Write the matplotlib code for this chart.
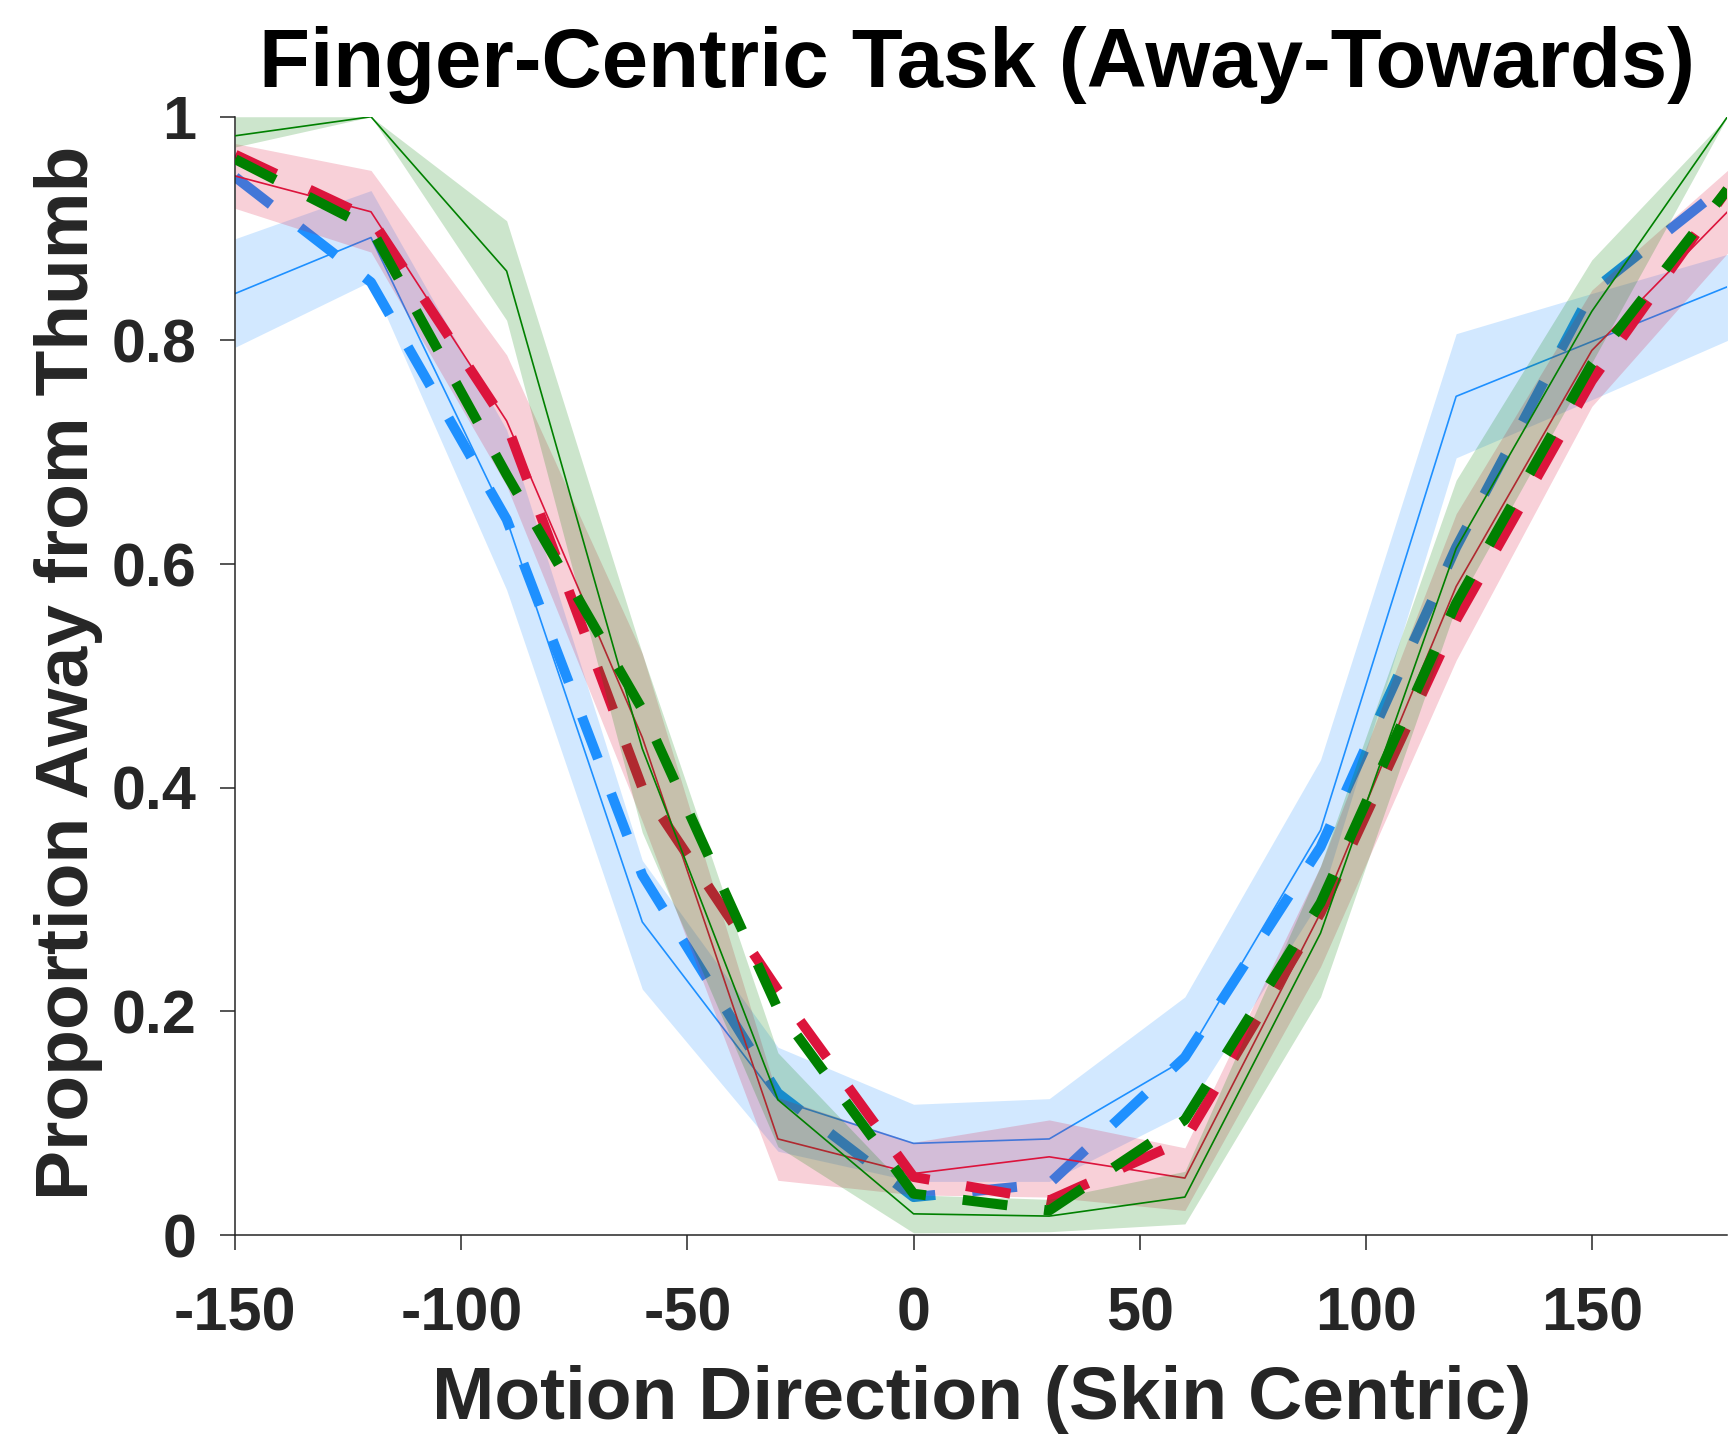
import matplotlib
matplotlib.use("Agg")
import matplotlib.pyplot as plt
import numpy as np

# ---- data ----
directions = [-150, -120, -90, -60, -30, 0, 30, 60, 90, 120, 150, 180]

blue_data  = [0.842, 0.892, 0.640, 0.280, 0.121, 0.082, 0.086, 0.157, 0.362, 0.750, 0.799, 0.848]
blue_upper = [0.891, 0.934, 0.720, 0.335, 0.168, 0.117, 0.122, 0.213, 0.425, 0.806, 0.842, 0.877]
blue_lower = [0.794, 0.853, 0.577, 0.220, 0.075, 0.048, 0.048, 0.109, 0.300, 0.695, 0.747, 0.800]
blue_fit   = [0.946, 0.852, 0.640, 0.322, 0.127, 0.034, 0.046, 0.159, 0.347, 0.615, 0.844, 0.940]

red_data  = [0.947, 0.915, 0.728, 0.445, 0.086, 0.055, 0.070, 0.051, 0.288, 0.580, 0.791, 0.915]
red_upper = [0.976, 0.952, 0.787, 0.520, 0.123, 0.083, 0.103, 0.078, 0.330, 0.645, 0.845, 0.952]
red_lower = [0.918, 0.879, 0.670, 0.370, 0.049, 0.036, 0.034, 0.022, 0.240, 0.514, 0.741, 0.878]
red_fit   = [0.966, 0.909, 0.725, 0.400, 0.219, 0.052, 0.031, 0.085, 0.288, 0.550, 0.764, 0.935]

green_data  = [0.983, 1.000, 0.862, 0.435, 0.121, 0.019, 0.017, 0.034, 0.270, 0.614, 0.826, 1.000]
green_upper = [1.000, 1.000, 0.907, 0.520, 0.163, 0.036, 0.032, 0.057, 0.330, 0.675, 0.872, 1.000]
green_lower = [0.973, 1.000, 0.818, 0.360, 0.079, 0.002, 0.003, 0.010, 0.213, 0.562, 0.780, 1.000]
green_fit   = [0.962, 0.900, 0.680, 0.470, 0.202, 0.037, 0.022, 0.103, 0.297, 0.565, 0.779, 0.935]

xticks = [-150, -100, -50, 0, 50, 100, 150]
xtick_labels = ['-150', '-100', '-50', '0', '50', '100', '150']
yticks = [0, 0.2, 0.4, 0.6, 0.8, 1.0]
ytick_labels = ['0', '0.2', '0.4', '0.6', '0.8', '1']

title = 'Finger-Centric Task (Away-Towards)'
xlabel = 'Motion Direction (Skin Centric)'
ylabel = 'Proportion Away from Thumb'

# ---- style ----
plt.rcParams['font.family'] = ['Liberation Sans', 'DejaVu Sans']
plt.rcParams['font.weight'] = 'bold'
axcol = '#262626'

fig = plt.figure(figsize=(17.33, 14.36), dpi=100)
ax = fig.add_axes([0.1358, 0.1399, 0.9968 - 0.1358, 0.9187 - 0.1399])

series = [
    ('#1E90FF', blue_data, blue_upper, blue_lower, blue_fit),
    ('#DC143C', red_data, red_upper, red_lower, red_fit),
    ('#008000', green_data, green_upper, green_lower, green_fit),
]
z = 1
for col, d, up, lo, fit in series:
    ax.fill_between(directions, lo, up, color=col, alpha=0.2, linewidth=0, zorder=z)
    ax.plot(directions, d, color=col, linewidth=1.2, zorder=z + 0.1)
    ax.plot(directions, fit, color=col, linewidth=7.2, linestyle=(0, (4.5, 3.7)),
            dash_capstyle='butt', solid_joinstyle='miter', zorder=z + 0.2)
    z += 1

ax.set_xlim(-150, 180)
ax.set_ylim(0, 1)
ax.set_xticks(xticks)
ax.set_xticklabels(xtick_labels)
ax.set_yticks(yticks)
ax.set_yticklabels(ytick_labels)

for s in ['top', 'right']:
    ax.spines[s].set_visible(False)
for s in ['left', 'bottom']:
    ax.spines[s].set_color(axcol)
    ax.spines[s].set_linewidth(1.1)

ax.tick_params(axis='both', direction='out', length=10.8, width=1.1, color=axcol,
               labelcolor=axcol, labelsize=44)
ax.tick_params(axis='x', pad=26)
ax.tick_params(axis='y', pad=17)
for lab in ax.get_xticklabels() + ax.get_yticklabels():
    lab.set_fontweight('bold')

ax.set_xlabel(xlabel, fontsize=54, fontweight='bold', color=axcol)
ax.xaxis.label.set_va('baseline')
ax.xaxis.set_label_coords(0.5, -0.1640)
ax.set_ylabel(ylabel, fontsize=54, fontweight='bold', color=axcol)
ax.yaxis.label.set_va('baseline')
ax.yaxis.set_label_coords(-0.0987, 0.5026)

ax.text(0.497, 1.0268, title, transform=ax.transAxes, ha='center', va='baseline',
        fontsize=60, fontweight='bold', color='black')

fig.savefig('out.png', dpi=100)
